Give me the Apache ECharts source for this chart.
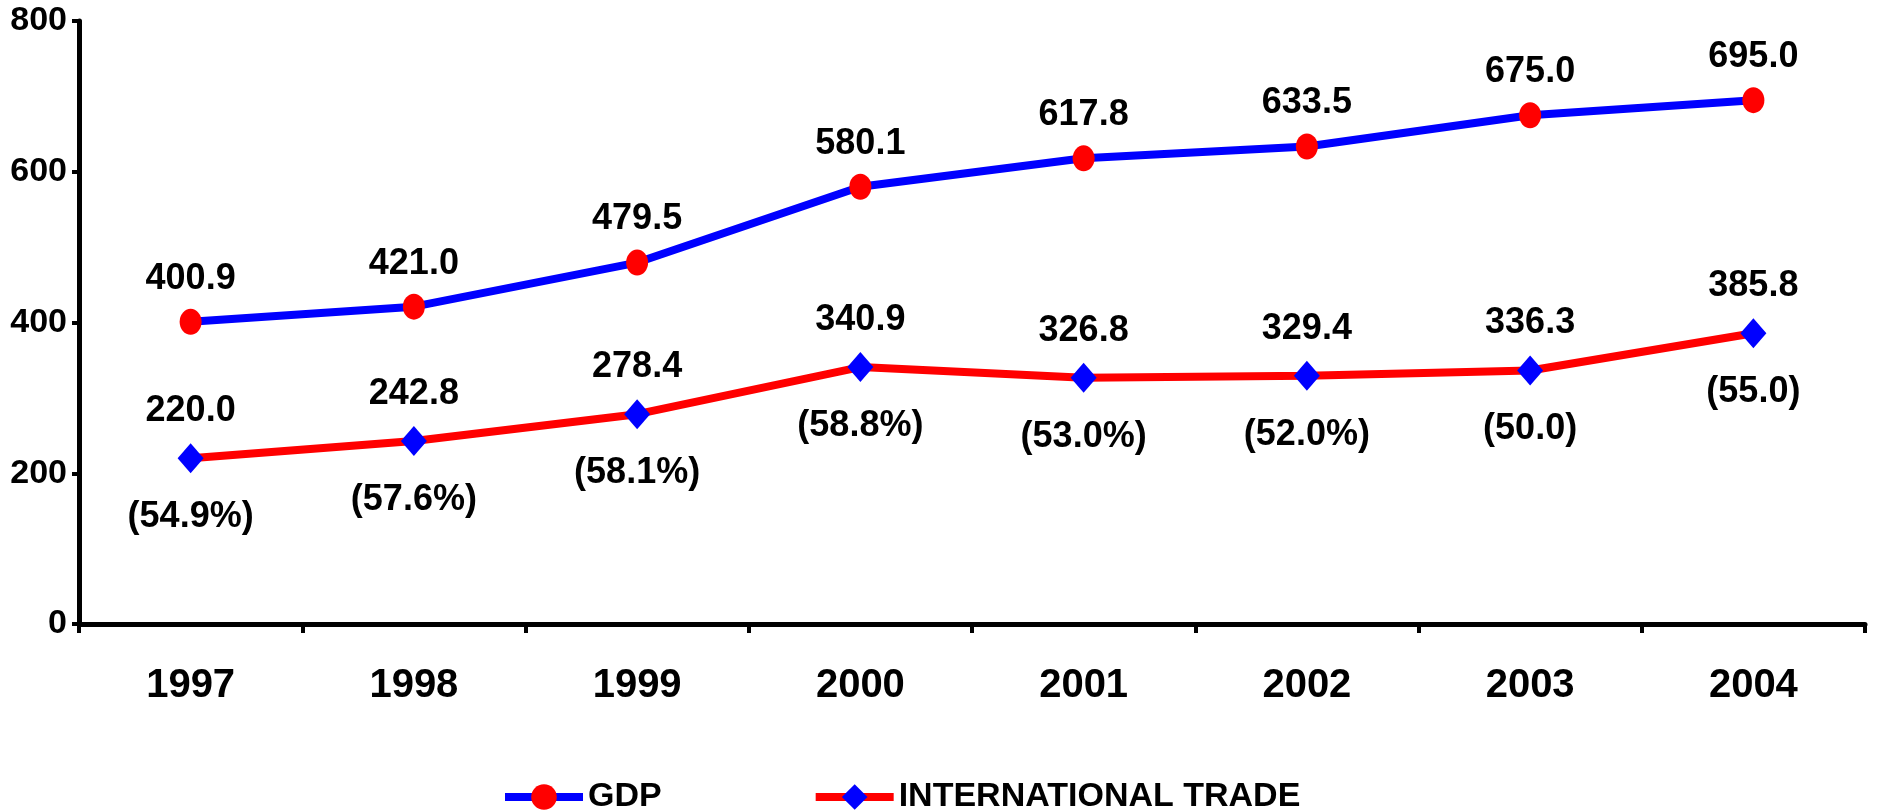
<!DOCTYPE html>
<html lang="en">
<head>
  <meta charset="UTF-8">
  <title>GDP and International Trade</title>
  <script src="https://cdn.jsdelivr.net/npm/echarts@6/dist/echarts.min.js"></script>
  <style>
    html, body { margin: 0; padding: 0; background: #fff; }
  </style>
</head>
<body>
  <div id="main" style="width: 1881px;height:812px;"></div>

  <script type="text/javascript">
    // chart data
    let years = ['1997', '1998', '1999', '2000', '2001', '2002', '2003', '2004'];
    let gdp = [400.9, 421.0, 479.5, 580.1, 617.8, 633.5, 675.0, 695.0];
    let trade = [220.0, 242.8, 278.4, 340.9, 326.8, 329.4, 336.3, 385.8];
    let tradeShare = ['54.9%', '57.6%', '58.1%', '58.8%', '53.0%', '52.0%', '50.0', '55.0'];
    let yTicks = [0, 200, 400, 600, 800];

    const FONT = "'Liberation Sans', Arial, sans-serif";

    let myChart = echarts.init(document.getElementById('main'));

    let options = {
      animation: false,
      grid: { left: 79, right: 16, top: 21, bottom: 188 },
      legend: {
        left: 496,
        top: 775,
        itemWidth: 78,
        itemHeight: 32,
        itemGap: 150,
        data: ['GDP', 'INTERNATIONAL TRADE'],
        lineStyle: { width: 8 },
        textStyle: { fontFamily: FONT, fontWeight: 'bold', fontSize: 34, color: '#000' }
      },
      xAxis: {
        type: 'category',
        data: years,
        boundaryGap: true,
        axisLine: { lineStyle: { color: '#000', width: 5 } },
        axisTick: { show: true, length: 9, lineStyle: { color: '#000', width: 4 } },
        axisLabel: {
          margin: 42,
          color: '#000',
          fontFamily: FONT,
          fontWeight: 'bold',
          fontSize: 40
        }
      },
      yAxis: {
        type: 'value',
        min: yTicks[0],
        max: yTicks[yTicks.length - 1],
        interval: 200,
        splitLine: { show: false },
        axisLine: { show: true, lineStyle: { color: '#000', width: 5 } },
        axisTick: { show: true, length: 7, lineStyle: { color: '#000', width: 4 } },
        axisLabel: {
          margin: 12,
          color: '#000',
          fontFamily: FONT,
          fontWeight: 'bold',
          fontSize: 34
        }
      },
      series: [
        {
          name: 'GDP',
          type: 'line',
          data: gdp,
          symbol: 'circle',
          symbolSize: [22, 26],
          itemStyle: { color: '#ff0000' },
          lineStyle: { color: '#0000ff', width: 8 },
          label: {
            show: true,
            position: 'top',
            distance: 12,
            color: '#000',
            fontFamily: FONT,
            fontWeight: 'bold',
            fontSize: 36,
            formatter: (p) => p.value.toFixed(1)
          }
        },
        {
          name: 'INTERNATIONAL TRADE',
          type: 'line',
          data: trade,
          symbol: 'diamond',
          symbolSize: [26, 30],
          itemStyle: { color: '#0000ff' },
          lineStyle: { color: '#ff0000', width: 8 },
          label: {
            show: true,
            position: 'inside',
            offset: [0, 6],
            color: '#000',
            fontFamily: FONT,
            fontWeight: 'bold',
            fontSize: 36,
            formatter: (p) => '{v|' + p.value.toFixed(1) + '}\n{g| }\n{p|(' + tradeShare[p.dataIndex] + ')}',
            rich: {
              v: { fontFamily: FONT, fontWeight: 'bold', fontSize: 36, lineHeight: 40, color: '#000' },
              g: { fontSize: 10, lineHeight: 66 },
              p: { fontFamily: FONT, fontWeight: 'bold', fontSize: 36, lineHeight: 40, color: '#000' }
            }
          }
        }
      ]
    };

    myChart.setOption(options);
  </script>
</body>
</html>
